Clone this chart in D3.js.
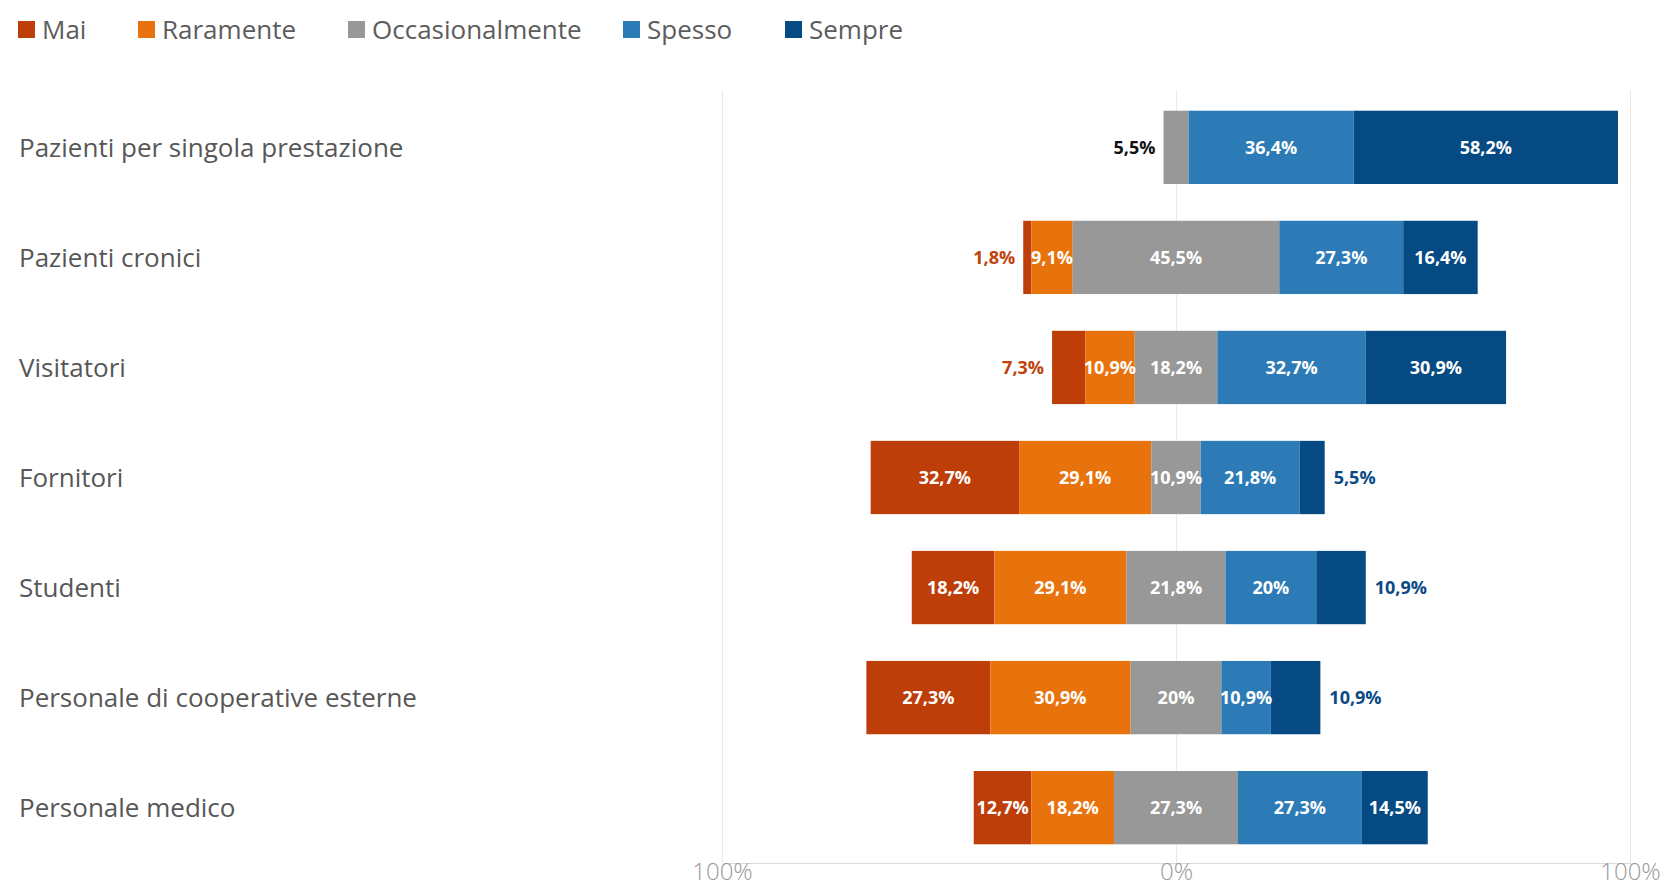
<!DOCTYPE html>
<html>
<head>
<meta charset="utf-8">
<script src="https://cdn.jsdelivr.net/npm/d3@7"></script>
<style>
  html, body { margin: 0; padding: 0; background: #ffffff; }
  svg { display: block; }
</style>
</head>
<body>
<svg id="chart" width="1671" height="886"></svg>
<script>
// Survey answers by group: share of each frequency level (%)
const categories = [
  "Pazienti per singola prestazione",
  "Pazienti cronici",
  "Visitatori",
  "Fornitori",
  "Studenti",
  "Personale di cooperative esterne",
  "Personale medico"
];
const seriesNames = ["Mai", "Raramente", "Occasionalmente", "Spesso", "Sempre"];
const mai             = [0,    1.8,  7.3,  32.7, 18.2, 27.3, 12.7];
const raramente       = [0,    9.1,  10.9, 29.1, 29.1, 30.9, 18.2];
const occasionalmente = [5.5,  45.5, 18.2, 10.9, 21.8, 20,   27.3];
const spesso          = [36.4, 27.3, 32.7, 21.8, 20,   10.9, 27.3];
const sempre          = [58.2, 16.4, 30.9, 5.5,  10.9, 10.9, 14.5];
const axisTicks = [-100, 0, 100];

const seriesValues = [mai, raramente, occasionalmente, spesso, sempre];
const seriesColors = ["#BE3E09", "#E8720C", "#989898", "#2C7BB6", "#064A83"];
const outsideLabelColors = ["#C0420C", "#E8720C", "#111111", "#2C7BB6", "#0A4A86"];

const svg = d3.select("#chart");

// Layout
const plot = { left: 722, right: 1630, top: 92, bottom: 863 };
const labelX = 19;
const legendItemX = [18, 138, 348, 623, 785];

const x = d3.scaleLinear().domain([-100, 100]).range([plot.left, plot.right]);
const y = d3.scaleBand().domain(categories)
  .range([plot.top, plot.bottom])
  .paddingInner(0.334).paddingOuter(0.17);

const itLocale = d3.formatLocale({ decimal: ",", thousands: ".", grouping: [3], currency: ["", " €"] });
const fmt = v => itLocale.format(".1~f")(v) + "%";

// Gridlines
svg.append("g").selectAll("line")
  .data(axisTicks).join("line")
  .attr("x1", d => x(d)).attr("x2", d => x(d))
  .attr("y1", plot.top - 2).attr("y2", plot.bottom)
  .attr("stroke", "#e9e9e9").attr("stroke-width", 1)
  .attr("shape-rendering", "crispEdges");

// Bottom axis
const xAxis = d3.axisBottom(x).tickValues(axisTicks)
  .tickSize(0).tickPadding(0)
  .tickFormat(d => Math.abs(d) + "%");
const axisG = svg.append("g")
  .attr("transform", `translate(0,${plot.bottom})`)
  .call(xAxis);
axisG.select(".domain").attr("stroke", "#dcdcdc").attr("shape-rendering", "crispEdges");
axisG.selectAll("text")
  .attr("font-family", "'Open Sans', 'Noto Sans', sans-serif")
  .attr("font-weight", 300)
  .attr("font-size", 24)
  .attr("fill", "#9a9a9a")
  .attr("y", 16.5)
  .attr("dy", 0);

// Build diverging segments: negatives left of centre, neutral split across zero
const segments = [];
categories.forEach((cat, i) => {
  const vals = seriesValues.map(s => s[i]);
  let start = -(vals[0] + vals[1] + vals[2] / 2);
  const nonZero = vals.map((v, k) => v > 0 ? k : -1).filter(k => k >= 0);
  const firstK = nonZero[0], lastK = nonZero[nonZero.length - 1];
  vals.forEach((v, k) => {
    const seg = { cat, k, value: v, x0: start, x1: start + v };
    seg.side = (v < 12 && k === firstK) ? "left" : (v < 12 && k === lastK) ? "right" : "inside";
    segments.push(seg);
    start += v;
  });
});

const bars = svg.append("g");
bars.selectAll("rect")
  .data(segments.filter(d => d.value > 0)).join("rect")
  .attr("x", d => x(d.x0))
  .attr("y", d => y(d.cat))
  .attr("width", d => x(d.x1) - x(d.x0))
  .attr("height", y.bandwidth())
  .attr("fill", d => seriesColors[d.k]);

// Data labels
const labels = svg.append("g")
  .attr("font-family", "'Open Sans', 'Noto Sans', sans-serif")
  .attr("font-weight", 700)
  .attr("font-size", 18);
labels.selectAll("text")
  .data(segments.filter(d => d.value > 0)).join("text")
  .attr("x", d => d.side === "left" ? x(d.x0) - 8 : d.side === "right" ? x(d.x1) + 9 : (x(d.x0) + x(d.x1)) / 2)
  .attr("y", d => y(d.cat) + y.bandwidth() / 2)
  .attr("dy", "0.36em")
  .attr("text-anchor", d => d.side === "left" ? "end" : d.side === "right" ? "start" : "middle")
  .attr("fill", d => d.side === "inside" ? "#ffffff" : outsideLabelColors[d.k])
  .text(d => fmt(d.value));

// Category labels
svg.append("g").selectAll("text")
  .data(categories).join("text")
  .attr("x", labelX)
  .attr("y", d => y(d) + y.bandwidth() / 2)
  .attr("dy", "0.36em")
  .attr("font-family", "'Open Sans', 'Noto Sans', sans-serif")
  .attr("font-size", 26)
  .attr("fill", "#575757")
  .text(d => d);

// Legend
const legend = svg.append("g").selectAll("g")
  .data(seriesNames).join("g")
  .attr("transform", (d, i) => `translate(${legendItemX[i]},0)`);
legend.append("rect")
  .attr("x", 0).attr("y", 21).attr("width", 17).attr("height", 17)
  .attr("fill", (d, i) => seriesColors[i]);
legend.append("text")
  .attr("x", 24).attr("y", 30).attr("dy", "0.36em")
  .attr("font-family", "'Open Sans', 'Noto Sans', sans-serif")
  .attr("font-size", 26)
  .attr("fill", "#5c5c5c")
  .text(d => d);
</script>
</body>
</html>
